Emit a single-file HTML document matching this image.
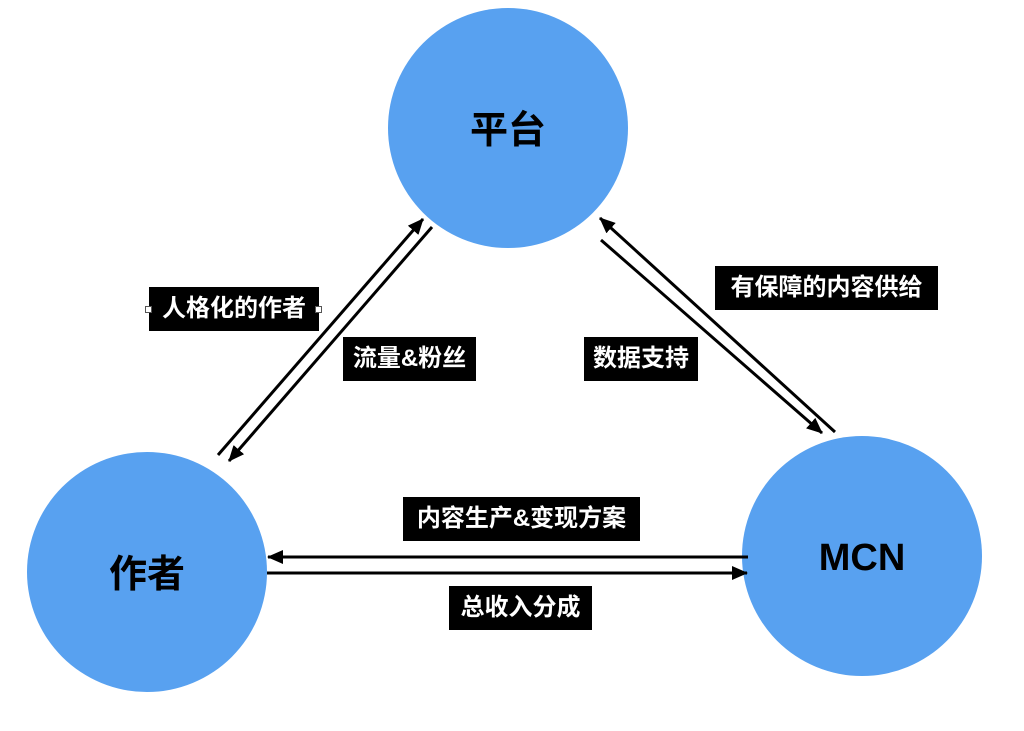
<!DOCTYPE html>
<html><head><meta charset="utf-8"><style>
body{margin:0;background:#fff;width:1024px;height:731px;overflow:hidden;position:relative;font-family:"Liberation Sans","Noto Sans CJK SC",sans-serif}
.l{position:absolute;background:#000;color:#fff;font-size:24px;font-weight:bold;line-height:44px;text-align:center;white-space:nowrap}
.h{position:absolute;width:5px;height:5px;background:#fff;border:1px solid #555}
</style></head><body>
<svg width="1024" height="731" style="position:absolute;left:0;top:0">
<defs>
<marker id="b" markerWidth="16" markerHeight="14" refX="15" refY="7" orient="auto" markerUnits="userSpaceOnUse"><path d="M0,0 L16,7 L0,14 z"/></marker></defs>
<circle cx="508" cy="128" r="120" fill="#58a1f0"/>
<circle cx="147" cy="572" r="120" fill="#58a1f0"/>
<circle cx="862" cy="556" r="120" fill="#58a1f0"/>
<g stroke="#000" stroke-width="3">
<line x1="218" y1="455" x2="423" y2="219" marker-end="url(#b)"/>
<line x1="432" y1="227" x2="229" y2="461" marker-end="url(#b)"/>
<line x1="835" y1="432" x2="600" y2="218" marker-end="url(#b)"/>
<line x1="601" y1="240" x2="822" y2="433" marker-end="url(#b)"/>
<line x1="748" y1="557" x2="268" y2="557" marker-end="url(#b)"/>
<line x1="267" y1="573" x2="747" y2="573" marker-end="url(#b)"/>
</g>
<text x="508" y="143" font-size="38" font-weight="bold" text-anchor="middle" font-family="Liberation Sans,Noto Sans CJK SC,sans-serif">平台</text>
<text x="147" y="587" font-size="38" font-weight="bold" text-anchor="middle" font-family="Liberation Sans,Noto Sans CJK SC,sans-serif">作者</text>
<text x="862" y="570" font-size="38" font-weight="bold" text-anchor="middle" font-family="Liberation Sans,Noto Sans CJK SC,sans-serif">MCN</text>
</svg>
<div class="l" style="left:149px;top:287px;width:170px">人格化的作者</div>
<div class="h" style="left:145px;top:306px"></div>
<div class="h" style="left:315px;top:306px"></div>
<div class="l" style="left:343px;top:337px;width:133px">流量&amp;粉丝</div>
<div class="l" style="left:715px;top:266px;width:223px">有保障的内容供给</div>
<div class="l" style="left:584px;top:337px;width:114px">数据支持</div>
<div class="l" style="left:403px;top:497px;width:237px">内容生产&amp;变现方案</div>
<div class="l" style="left:449px;top:586px;width:143px">总收入分成</div>
</body></html>
